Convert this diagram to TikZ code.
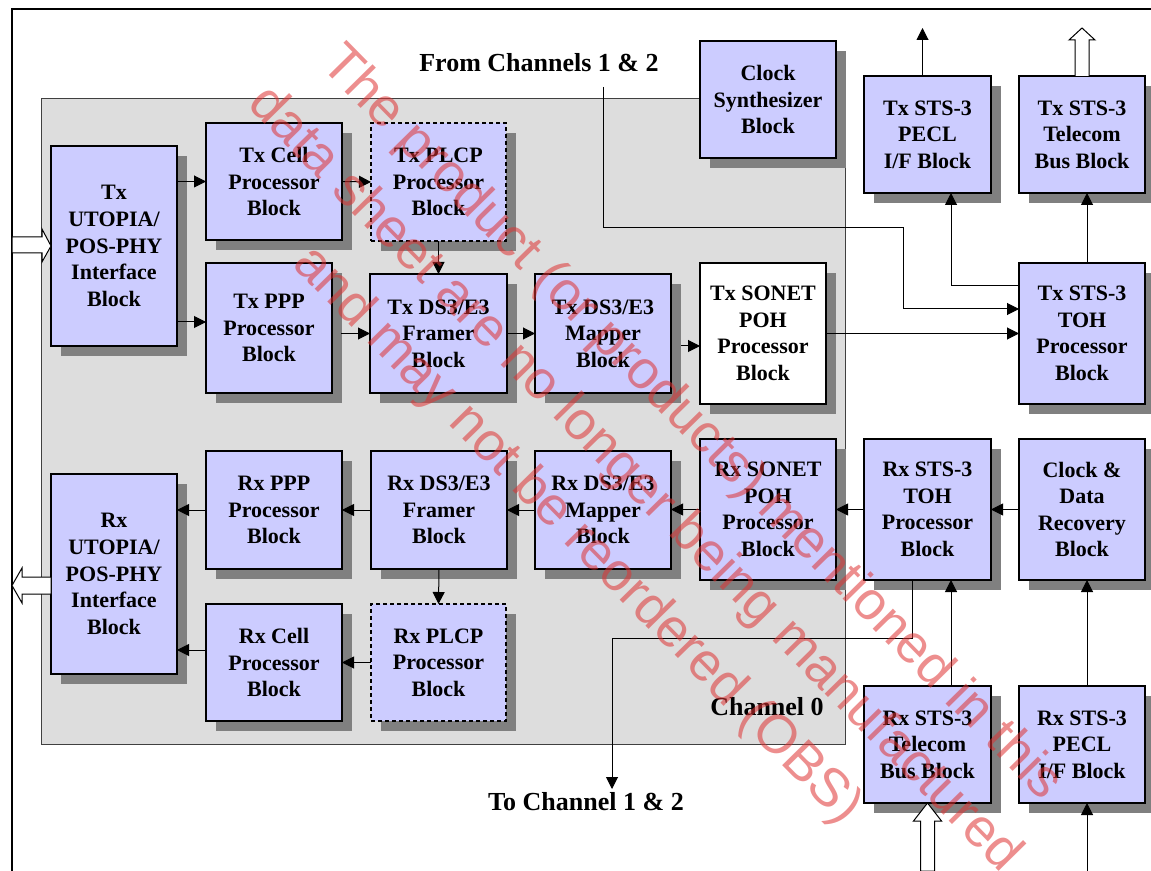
\documentclass[tikz,border=0pt]{standalone}
\usepackage{fontspec}
\setmainfont{Liberation Serif}
\setsansfont{Liberation Sans}
\usetikzlibrary{arrows.meta,shadows,calc}

\definecolor{blkfill}{RGB}{204,204,255}
\definecolor{chfill}{RGB}{221,221,221}
\definecolor{wmred}{RGB}{222,50,50}

\tikzset{
  blk/.style={draw, line width=0.6pt, fill=blkfill, inner sep=0pt, outer sep=0pt,
    align=center, font=\bfseries\fontsize{11}{13.3}\selectfont,
    drop shadow={shadow xshift=5pt, shadow yshift=-5pt, fill=black!50, opacity=1}},
  plcp/.style={blk, dash pattern=on 2pt off 1.5pt},
  wide/.style={minimum width=68pt},
  narrow/.style={minimum width=63pt},
  short/.style={minimum height=58.5pt},
  tall/.style={minimum height=70.5pt},
  arr/.style={line width=0.5pt, -{Triangle[length=6pt,width=6pt]}},
  hollow/.style={draw, line width=0.5pt, fill=white},
  lbl/.style={font=\bfseries\fontsize{13}{15.6}\selectfont},
}

\begin{document}
\begin{tikzpicture}[x=0.5pt, y=-0.5pt]
  \useasboundingbox (0,0) rectangle (1151,871);

  % channel 0
  \draw[fill=chfill, draw=black!75, line width=0.5pt] (41,99) rectangle (845,744);
  \node[lbl] (ch0) at (767,707) {Channel 0};

  % frame
  \draw[line width=1.2pt] (12,871) -- (12,9) -- (1151,9);

  % tx path
  \node[blk, narrow, minimum height=100pt] (txutp) at (114,246) {Tx\\UTOPIA/\\POS-PHY\\Interface\\Block};
  \node[blk, wide, short] (txcell) at (274,181.5) {Tx Cell\\Processor\\Block};
  \node[plcp, minimum width=67.5pt, minimum height=59pt] (txplcp) at (438.5,182) {Tx PLCP\\Processor\\Block};
  \node[blk, narrow, minimum height=65pt] (txppp) at (269,328) {Tx PPP\\Processor\\Block};
  \node[blk, minimum width=68.5pt, minimum height=59.5pt] (txfrm) at (438.5,333.5) {Tx DS3/E3\\Framer\\Block};
  \node[blk, wide, minimum height=59.5pt] (txmap) at (603,333.5) {Tx DS3/E3\\Mapper\\Block};
  \node[blk, narrow, tall, fill=white] (txpoh) at (763,333.5) {Tx SONET\\POH\\Processor\\Block};
  \node[blk, wide, short] (clksyn) at (768,99.5) {Clock\\Synthesizer\\Block};
  \node[blk, minimum width=63.5pt, short] (txpecl) at (927.5,134.5) {Tx STS-3\\PECL\\I/F Block};
  \node[blk, narrow, short] (txtel) at (1082,134.5) {Tx STS-3\\Telecom\\Bus Block};
  \node[blk, narrow, tall] (txtoh) at (1082,333.5) {Tx STS-3\\TOH\\Processor\\Block};

  % rx path
  \node[blk, narrow, minimum height=100pt] (rxutp) at (114,574) {Rx\\UTOPIA/\\POS-PHY\\Interface\\Block};
  \node[blk, wide, minimum height=59pt] (rxppp) at (274,510) {Rx PPP\\Processor\\Block};
  \node[blk, wide, minimum height=59pt] (rxfrm) at (439,510) {Rx DS3/E3\\Framer\\Block};
  \node[blk, wide, minimum height=59pt] (rxmap) at (603,510) {Rx DS3/E3\\Mapper\\Block};
  \node[blk, wide, tall] (rxpoh) at (768,509.5) {Rx SONET\\POH\\Processor\\Block};
  \node[blk, minimum width=63.5pt, tall] (rxtoh) at (927.5,509.5) {Rx STS-3\\TOH\\Processor\\Block};
  \node[blk, narrow, tall] (cdr) at (1082,509.5) {Clock \&\\Data\\Recovery\\Block};
  \node[blk, wide, short] (rxcell) at (274,662.5) {Rx Cell\\Processor\\Block};
  \node[plcp, minimum width=67.5pt, short] (rxplcp) at (438.5,662.5) {Rx PLCP\\Processor\\Block};
  \node[blk, minimum width=63.5pt, short] (rxtel) at (927.5,744.5) {Rx STS-3\\Telecom\\Bus Block};
  \node[blk, narrow, short] (rxpecl) at (1082,744.5) {Rx STS-3\\PECL\\I/F Block};

  \node[lbl] (fromlbl) at (539,63) {From Channels 1 \& 2};
  \node[lbl] (tolbl) at (586,802) {To Channel 1 \& 2};
  \coordinate (fromch) at (603,87);
  \coordinate (toch) at (612,789);

  % tx connectors
  \draw[arr] (txutp.east |- txcell.west) -- (txcell.west);
  \draw[arr] (txcell.east) -- (txplcp.west);
  \draw[arr] (txutp.east |- 0,322) -- (txppp.west |- 0,322);
  \draw[arr] ($(txppp.east |- txfrm.west)+(9,0)$) -- (txfrm.west);
  \draw[arr] (txplcp.south) -- (txfrm.north);
  \draw[arr] (txfrm.east) -- (txmap.west);
  \draw[arr] ($(txmap.east |- 0,346)+(10,0)$) -- (txpoh.west |- 0,346);
  \draw[arr] (txpoh.east) -- (txtoh.west);
  \draw[arr] (fromch) |- (903,228) |- (txtoh.west |- 0,309);
  \draw[arr] (txtoh.west |- 0,286) -| ($(txpecl.south)+(23.5,0)$);
  \draw[arr] ($(txtoh.north)+(5,0)$) -- ($(txtel.south)+(5,0)$);
  \draw[arr] ($(txpecl.north)+(-5,0)$) -- ++(0,-48);
  \draw[hollow] ($(txtel.north)+(-7,0)$) -- ++(0,-36) -- ++(-6,0) -- ++(13,-12)
    -- ++(13,12) -- ++(-6,0) -- ++(0,36);
  \draw[hollow] (txutp.west) -- ++(-9,-17) -- ++(0,8) -- ++(-30,0) -- ++(0,16)
    -- ++(30,0) -- ++(0,9) -- cycle;

  % rx connectors
  \draw[arr] (rxppp.west) -- (rxutp.east |- rxppp.west);
  \draw[arr] (rxfrm.west) -- (rxppp.east);
  \draw[arr] (rxmap.west) -- (rxfrm.east);
  \draw[arr] (rxpoh.west) -- (rxmap.east |- rxpoh.west);
  \draw[arr] (rxtoh.west) -- (rxpoh.east);
  \draw[arr] (cdr.west) -- (rxtoh.east);
  \draw[arr] (rxcell.west |- 0,650) -- (rxutp.east |- 0,650);
  \draw[arr] (rxplcp.west) -- (rxcell.east);
  \draw[arr] (rxfrm.south) -- (rxplcp.north);
  \draw[arr] ($(rxtoh.south)+(-15.5,0)$) |- (toch |- 0,638) -- (toch);
  \draw[arr] ($(rxtel.north)+(23.5,0)$) -- ($(rxtoh.south)+(23.5,0)$);
  \draw[arr] ($(rxpecl.north)+(5,0)$) -- ($(cdr.south)+(5,0)$);
  \draw[arr] ($(rxpecl.south)+(5,68)$) -- ($(rxpecl.south)+(5,0)$);
  \draw[hollow] (rxtel.south) -- ++(14,18) -- ++(-7,0) -- ++(0,50) -- ++(-14,0)
    -- ++(0,-50) -- ++(-7,0) -- cycle;
  \draw[hollow] ($(rxutp.west)+(0,3)$) -- ++(-29,0) -- ++(0,-9) -- ++(-10,17.5)
    -- ++(10,17.5) -- ++(0,-9) -- ++(29,0) -- cycle;

  % watermark
  \node[rotate=-45.5, text=wmred, opacity=0.55, align=center,
    font=\sffamily\fontsize{27}{40}\selectfont] (wmark) at (634,480)
    {The product (or products) mentioned in this\\data sheet are no longer being manufactured\\and may not be reordered (OBS)};
\end{tikzpicture}
\end{document}
